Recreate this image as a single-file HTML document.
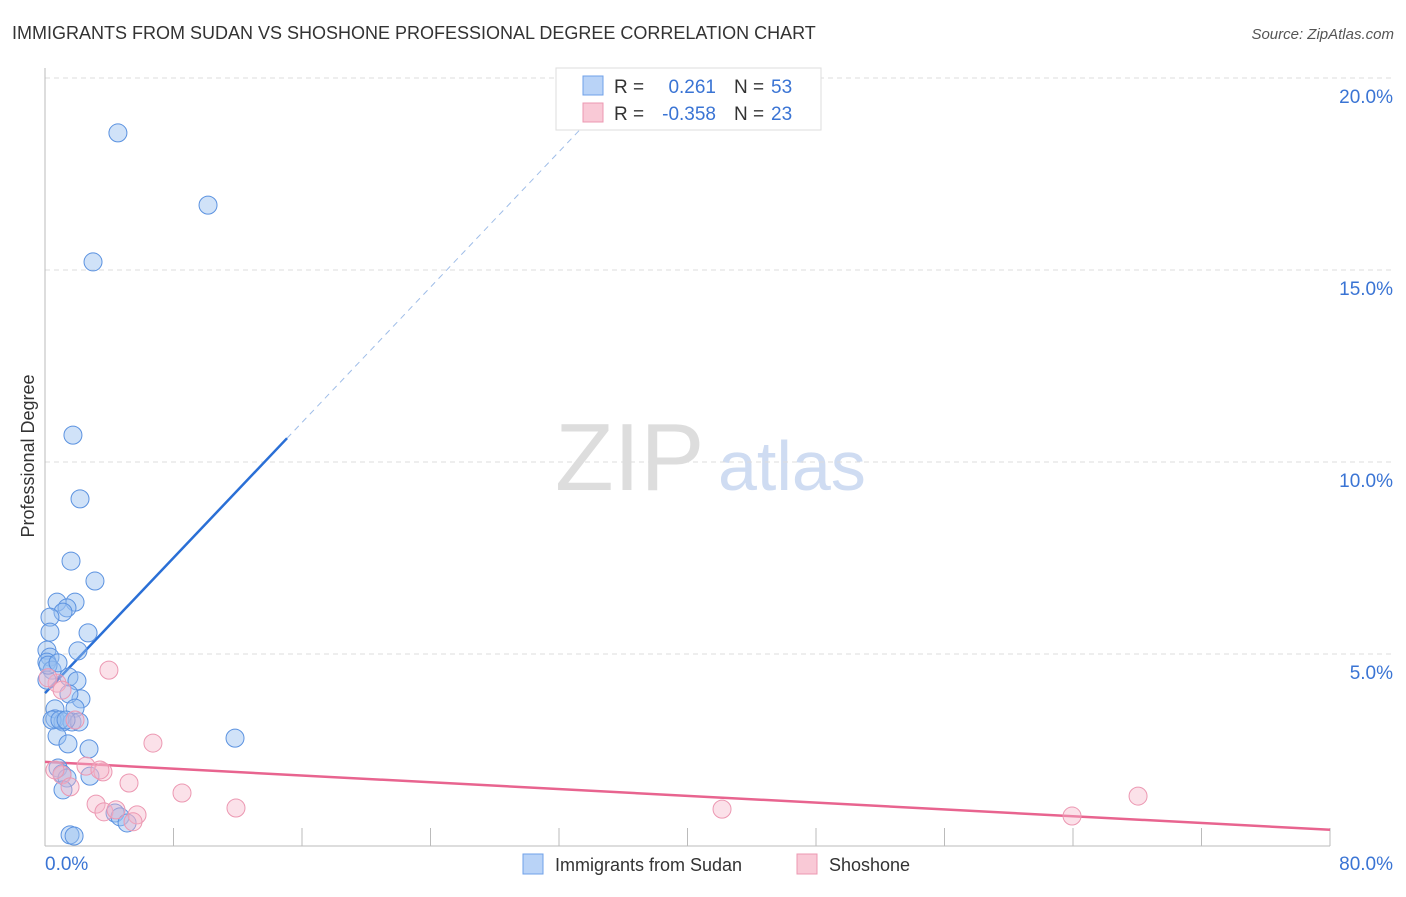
<!DOCTYPE html>
<html><head><meta charset="utf-8"><style>
body{margin:0;background:#fff;font-family:"Liberation Sans",sans-serif;}
svg text{font-family:"Liberation Sans",sans-serif;}
</style></head><body>
<svg width="1406" height="892" viewBox="0 0 1406 892" xmlns="http://www.w3.org/2000/svg">
<text x="12" y="39" font-size="18" fill="#333">IMMIGRANTS FROM SUDAN VS SHOSHONE PROFESSIONAL DEGREE CORRELATION CHART</text>
<text x="1394" y="39" font-size="15" fill="#555" font-style="italic" text-anchor="end">Source: ZipAtlas.com</text>
<text x="555" y="490" font-size="96" fill="#ddd" font-family="Liberation Serif">ZIP</text>
<text x="718" y="490" font-size="70" fill="#cfdcf2">atlas</text>
<g id="grid"></g>
<g id="axes"></g>
<text transform="translate(34,456) rotate(-90)" font-size="18" fill="#333" text-anchor="middle">Professional Degree</text>
<g id="trend"></g>
<g id="pts"></g>
<g>
<rect x="556" y="68" width="265" height="62" fill="#fff" stroke="#ddd"/>
<rect x="583" y="76" width="20" height="19" fill="#b9d3f7" stroke="#6fa0e8"/>
<rect x="583" y="103" width="20" height="19" fill="#f9c9d6" stroke="#ec98b2"/>
<text x="614" y="93" font-size="19" fill="#333">R =</text>
<text x="716" y="93" font-size="19" fill="#3a74d4" text-anchor="end">0.261</text>
<text x="734" y="93" font-size="19" fill="#333">N =</text>
<text x="771" y="93" font-size="19" fill="#3a74d4">53</text>
<text x="614" y="120" font-size="19" fill="#333">R =</text>
<text x="716" y="120" font-size="19" fill="#3a74d4" text-anchor="end">-0.358</text>
<text x="734" y="120" font-size="19" fill="#333">N =</text>
<text x="771" y="120" font-size="19" fill="#3a74d4">23</text>
</g>
<g>
<rect x="523" y="854" width="20" height="20" fill="#b9d3f7" stroke="#6fa0e8"/>
<text x="555" y="871" font-size="18" fill="#333">Immigrants from Sudan</text>
<rect x="797" y="854" width="20" height="20" fill="#f9c9d6" stroke="#ec98b2"/>
<text x="829" y="871" font-size="18" fill="#333">Shoshone</text>
</g>
</svg>
<script>
const blueX=[4.54,10.15,2.99,1.74,2.18,1.62,3.11,0.75,1.87,1.37,1.12,0.31,0.31,2.68,0.12,0.31,0.12,2.05,0.44,1.49,1.99,2.24,1.49,0.62,1.87,0.62,1.12,1.68,2.12,0.75,1.43,2.74,11.83,0.81,1.06,1.37,2.80,1.12,4.36,4.67,5.11,1.56,1.81,0.12,0.19,0.44,0.93,1.31,0.81];
const blueY=[18.57,16.69,15.21,10.70,9.04,7.42,6.90,6.35,6.35,6.20,6.09,5.96,5.57,5.55,5.10,4.92,4.79,5.08,4.58,4.40,4.30,3.83,3.96,3.57,3.59,3.31,3.23,3.23,3.23,2.86,2.66,2.53,2.81,2.03,1.88,1.77,1.82,1.46,0.86,0.76,0.60,0.29,0.26,4.32,4.71,3.28,3.28,3.28,4.77];
const pinkX=[3.98,0.75,0.19,1.87,6.72,2.55,3.61,1.06,0.62,3.42,1.56,5.23,8.53,3.18,3.67,4.42,5.73,5.48,11.89,42.15,63.94,68.05,1.06];
const pinkY=[4.58,4.24,4.38,3.28,2.68,2.08,1.93,1.85,1.98,1.98,1.54,1.64,1.38,1.09,0.89,0.94,0.81,0.63,0.99,0.96,0.78,1.30,4.06];
const yTicks=[5,10,15,20];
const xTickLabels=["0.0%","80.0%"];
const blueTrend=[3.98,0.4406];
const pinkTrend=[2.19,-0.0221];
const X=v=>45+v*1285/80, Y=v=>846-v*38.4;
const NS="http://www.w3.org/2000/svg";
function mk(t,a,p){const e=document.createElementNS(NS,t);for(const k in a)e.setAttribute(k,a[k]);p.appendChild(e);return e;}
const grid=document.getElementById('grid'),axes=document.getElementById('axes');
yTicks.forEach(t=>{
 const l=mk('line',{x1:45,x2:1394,y1:Y(t),y2:Y(t),stroke:'#ddd','stroke-dasharray':'5,4'},grid);
 
 
 const tx=mk('text',{x:1393,y:Y(t)+25,'font-size':19,fill:'#3a74d4','text-anchor':'end'},axes);
 tx.textContent=t.toFixed(1)+'%';
 
 
});
mk('line',{x1:45,x2:45,y1:68,y2:846,stroke:'#bbb'},axes);
mk('line',{x1:45,x2:1330,y1:846,y2:846,stroke:'#bbb'},axes);
for(let i=1;i<=10;i++){mk('line',{x1:X(i*8),x2:X(i*8),y1:828,y2:846,stroke:'#bbb'},axes);}
const l0=mk('text',{x:45,y:870,'font-size':19,fill:'#3a74d4'},axes);l0.textContent=xTickLabels[0];


const l1=mk('text',{x:1393,y:870,'font-size':19,fill:'#3a74d4','text-anchor':'end'},axes);l1.textContent=xTickLabels[1];


const pts=document.getElementById('pts');
blueX.forEach((x,i)=>{const c=mk('circle',{cx:X(x),cy:Y(blueY[i]),r:9,fill:'rgba(150,190,240,0.45)',stroke:'#5b92e0','stroke-width':1},pts);
 
 });
pinkX.forEach((x,i)=>{const c=mk('circle',{cx:X(x),cy:Y(pinkY[i]),r:9,fill:'rgba(245,180,200,0.4)',stroke:'#ec98b2','stroke-width':1},pts);
 
 });
const tr=document.getElementById('trend');
const bEnd=15.07, bTop=(20-blueTrend[0])/blueTrend[1];
let t1=mk('line',{x1:X(0),y1:Y(blueTrend[0]),x2:X(bEnd),y2:Y(blueTrend[0]+blueTrend[1]*bEnd),stroke:'#2a6fd6','stroke-width':2.5},tr);


let t2=mk('line',{x1:X(bEnd),y1:Y(blueTrend[0]+blueTrend[1]*bEnd),x2:X(bTop),y2:Y(20),stroke:'#9fbde8','stroke-width':1,'stroke-dasharray':'6,5'},tr);


let t3=mk('line',{x1:X(0),y1:Y(pinkTrend[0]),x2:X(80),y2:Y(pinkTrend[0]+pinkTrend[1]*80),stroke:'#e8648f','stroke-width':2.5},tr);


</script>
</body></html>
